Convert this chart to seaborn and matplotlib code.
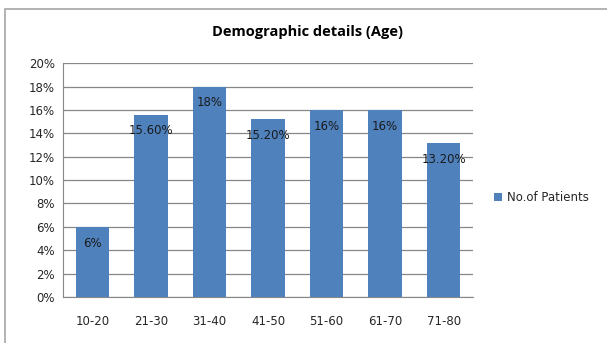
import matplotlib
matplotlib.use("Agg")
import matplotlib.pyplot as plt
import seaborn as sns
import pandas as pd
from matplotlib.patches import Rectangle

# Data
age_groups = ["10-20", "21-30", "31-40", "41-50", "51-60", "61-70", "71-80"]
patients_pct = [6, 15.6, 18, 15.2, 16, 16, 13.2]
bar_labels = ["6%", "15.60%", "18%", "15.20%", "16%", "16%", "13.20%"]
y_ticks = [0, 2, 4, 6, 8, 10, 12, 14, 16, 18, 20]

sns.set_style("white")
plt.rcParams['font.family'] = ['DejaVu Sans']

df = pd.DataFrame({"age": age_groups, "pct": patients_pct})

fig = plt.figure(figsize=(6.07, 3.43), dpi=100)
ax = fig.add_axes([0.104, 0.134, 0.675, 0.682])

# outer chart border
fig.patches.append(Rectangle((5 / 607, -0.05), 1.2, 1 - 9 / 343 + 0.05,
                             transform=fig.transFigure, fill=False,
                             edgecolor="#a6a6a6", linewidth=1.2))

bar_color = "#4f81bd"
sns.barplot(data=df, x="age", y="pct", color=bar_color, width=0.57,
            saturation=1, ax=ax, label="No.of Patients", zorder=3,
            linewidth=0)

ax.set_ylim(0, 20)
ax.set_yticks(y_ticks)
ax.set_yticklabels([f"{t}%" for t in y_ticks], fontsize=8.5, color="#262626")
ax.set_xlim(-0.5, len(age_groups) - 0.5)
ax.tick_params(axis="x", labelsize=8.5, colors="#262626", pad=13, length=0)
ax.tick_params(axis="y", length=3, color="#878787", pad=3)
ax.set_xlabel("")
ax.set_ylabel("")
ax.yaxis.grid(True, color="#878787", linewidth=0.9, zorder=0)
ax.set_axisbelow(True)
for side in ["top", "right"]:
    ax.spines[side].set_visible(False)
ax.spines["left"].set_color("#878787")
ax.spines["bottom"].set_color("#878787")

for i, (v, lab) in enumerate(zip(patients_pct, bar_labels)):
    ax.text(i, v - 1.4, lab, ha="center", va="center", fontsize=8.5,
            color="#1a1a1a", zorder=4)

fig.text(307 / 607, 1 - 32 / 343, "Demographic details (Age)", ha="center",
         va="center", fontsize=10.5, fontweight="bold", family="Open Sans",
         color="black")

ax.legend(loc="center left", bbox_to_anchor=(1.025, 0.425), frameon=False,
          fontsize=8.5, handlelength=0.7, handleheight=0.7, handletextpad=0.4,
          labelcolor="#262626")

fig.savefig("out.png", dpi=100)
